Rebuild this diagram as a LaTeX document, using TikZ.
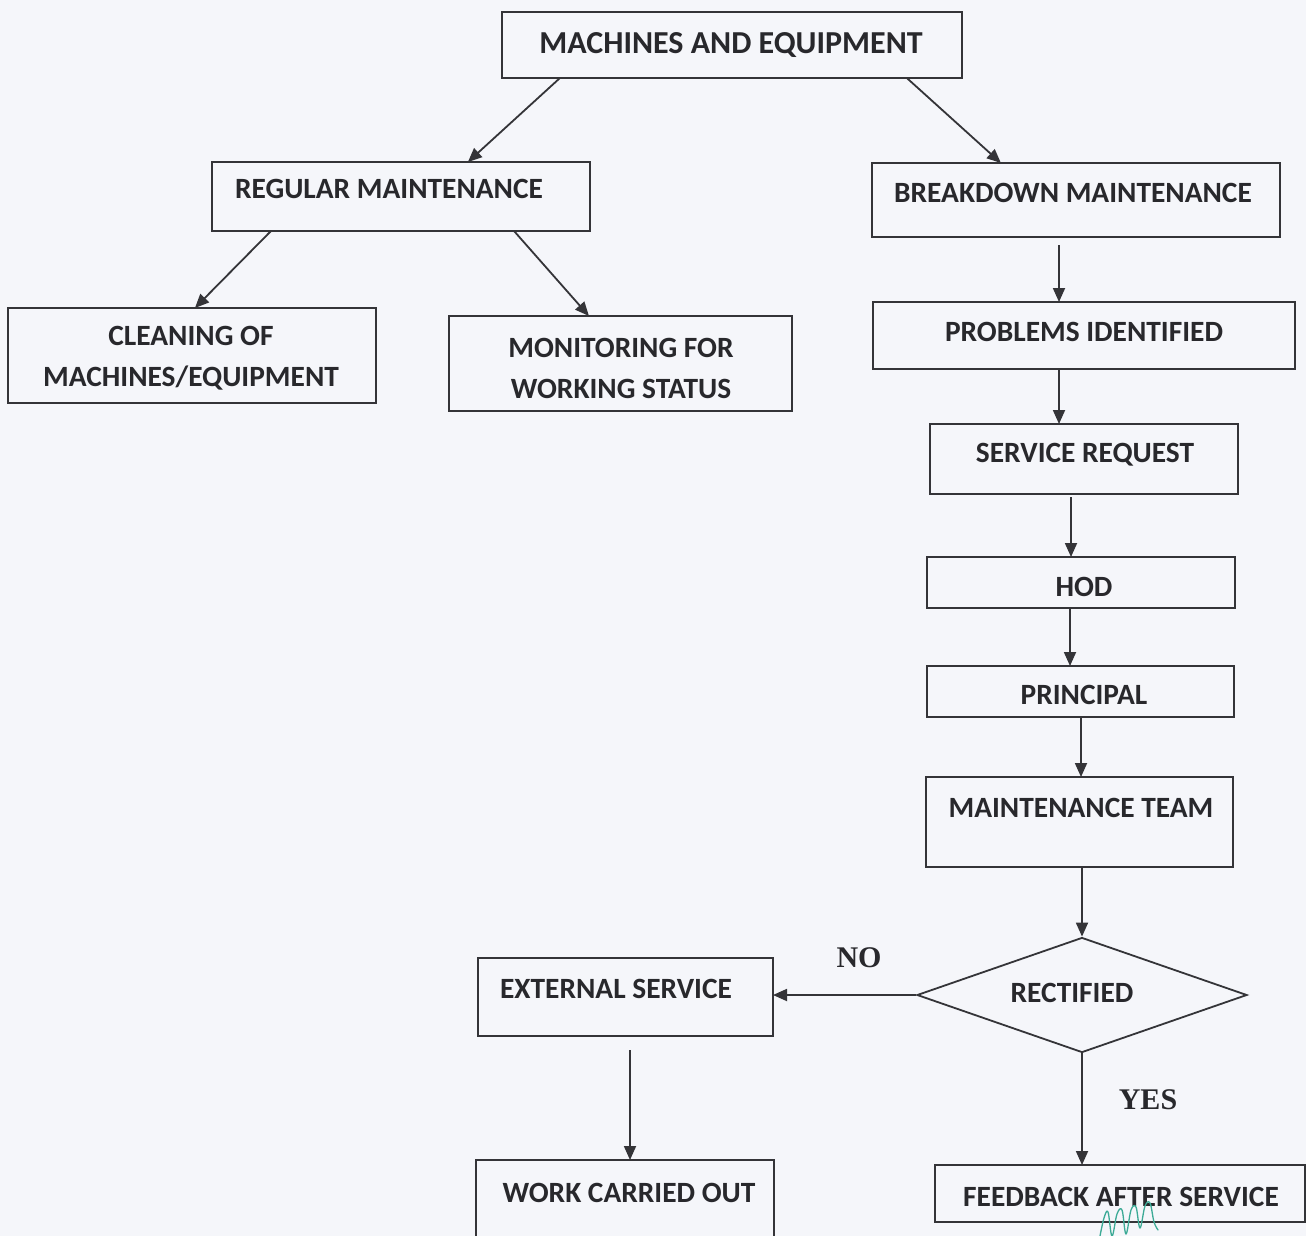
\documentclass[tikz,border=0pt]{standalone}
\usepackage{fontspec}
\setmainfont{Carlito}
\newfontfamily\tnr{Liberation Serif}
\usetikzlibrary{arrows.meta,shapes.geometric,calc}
\definecolor{bgc}{RGB}{245,246,250}
\definecolor{linec}{RGB}{52,52,56}
\definecolor{txtc}{RGB}{40,40,44}
\definecolor{signc}{RGB}{60,170,150}
\begin{document}
\begin{tikzpicture}[x=1pt,y=-1pt,
  box/.style={draw=linec, line width=1.8pt, rectangle, inner sep=0pt, outer sep=0pt},
  lbl/.style={text=txtc, font=\fontsize{29.4}{41}\selectfont\bfseries, inner sep=0pt, align=center},
  biglbl/.style={lbl, font=\fontsize{32}{40}\selectfont\bfseries},
  yn/.style={text=txtc, font=\fontsize{30}{32}\selectfont\tnr\bfseries, inner sep=0pt},
  arr/.style={draw=linec, line width=1.8pt, -{Triangle[length=14pt,width=12pt]}}]
\fill[bgc] (0,0) rectangle (1306,1236);
\useasboundingbox (0,0) rectangle (1306,1236);

% boxes
\node[box, minimum width=460pt, minimum height=66pt] (top) at (732,45) {};
\node[box, minimum width=378pt, minimum height=69pt] (reg) at (401,196.5) {};
\node[box, minimum width=408pt, minimum height=74pt] (brk) at (1076,200) {};
\node[box, minimum width=368pt, minimum height=95pt] (clean) at (192,355.5) {};
\node[box, minimum width=343pt, minimum height=95pt] (mon) at (620.5,363.5) {};
\node[box, minimum width=422pt, minimum height=67pt] (prob) at (1084,335.5) {};
\node[box, minimum width=308pt, minimum height=70pt] (serv) at (1084,459) {};
\node[box, minimum width=308pt, minimum height=51pt] (hod) at (1081,582.5) {};
\node[box, minimum width=307pt, minimum height=51pt] (prin) at (1080.5,691.5) {};
\node[box, minimum width=307pt, minimum height=90pt] (team) at (1079.5,822) {};
\node[draw=linec, line width=1.8pt, diamond, inner sep=0pt, minimum width=330pt, minimum height=115pt] (rect) at (1082,995) {};
\node[box, minimum width=295pt, minimum height=78pt] (ext) at (625.5,997) {};
\node[box, minimum width=298pt, minimum height=90pt] (work) at (625,1205) {};
\node[box, minimum width=370pt, minimum height=57pt] (feed) at (1120,1193.5) {};

% texts
\node[biglbl] (ttop) at (731,45) {MACHINES AND EQUIPMENT};
\node[lbl] (treg) at (389,189) {REGULAR MAINTENANCE};
\node[lbl] (tbrk) at (1073,193) {BREAKDOWN MAINTENANCE};
\node[lbl] (tclean) at (191,358) {CLEANING OF\\MACHINES/EQUIPMENT};
\node[lbl] (tmon) at (621,368) {MONITORING FOR\\WORKING STATUS};
\node[lbl] (tprob) at (1084,332) {PROBLEMS IDENTIFIED};
\node[lbl] (tserv) at (1085,455) {SERVICE REQUEST};
\node[lbl] (thod) at (1084,587) {HOD};
\node[lbl] (tprin) at (1084,695) {PRINCIPAL};
\node[lbl] (tteam) at (1081,808) {MAINTENANCE TEAM};
\node[lbl] (trect) at (1072,993) {RECTIFIED};
\node[lbl] (text) at (616,989) {EXTERNAL SERVICE};
\node[lbl] (twork) at (629,1193) {WORK CARRIED OUT};
\node[lbl] (tfeed) at (1121,1197) {FEEDBACK AFTER SERVICE};
\node[yn] (no) at (859,958) {NO};
\node[yn] (yes) at (1148,1100) {YES};

% guide coordinates for vertical connectors
\coordinate (x1) at (1059,0);
\coordinate (x2) at (1071,0);
\coordinate (x3) at (1070,0);
\coordinate (x4) at (1081,0);
\coordinate (x5) at (630,0);

% connectors
\draw[arr] ($(top.south west)!0.126!(top.south east)$) -- ($(reg.north west)!0.677!(reg.north east)$);
\draw[arr] ($(top.south west)!0.88!(top.south east)$) -- ($(brk.north west)!0.316!(brk.north east)$);
\draw[arr] ($(reg.south west)!0.156!(reg.south east)$) -- ($(clean.north west)!0.508!(clean.north east)$);
\draw[arr] ($(reg.south west)!0.799!(reg.south east)$) -- ($(mon.north west)!0.408!(mon.north east)$);
\draw[arr, shorten <=8pt] (brk.south -| x1) -- (prob.north -| x1);
\draw[arr] (prob.south -| x1) -- (serv.north -| x1);
\draw[arr, shorten <=3pt] (serv.south -| x2) -- (hod.north -| x2);
\draw[arr] (hod.south -| x3) -- (prin.north -| x3);
\draw[arr] (prin.south -| x4) -- (team.north -| x4);
\draw[arr] (team.south -| rect.north) -- (rect.north);
\draw[arr] (rect.west) -- (rect.west -| ext.east);
\draw[arr] (rect.south) -- (rect.south |- feed.north);
\draw[arr, shorten <=14pt] (ext.south -| x5) -- (work.north -| x5);

% handwritten mark
\draw[signc, line width=1.3pt, line cap=round, line join=round]
  plot[smooth, tension=0.6] coordinates {(1100,1236) (1104,1218) (1108,1212) (1112,1236) (1117,1214) (1122,1210) (1126,1234) (1131,1210) (1136,1207) (1140,1228) (1145,1206) (1150,1203) (1154,1222) (1158,1230)};
\end{tikzpicture}
\end{document}
